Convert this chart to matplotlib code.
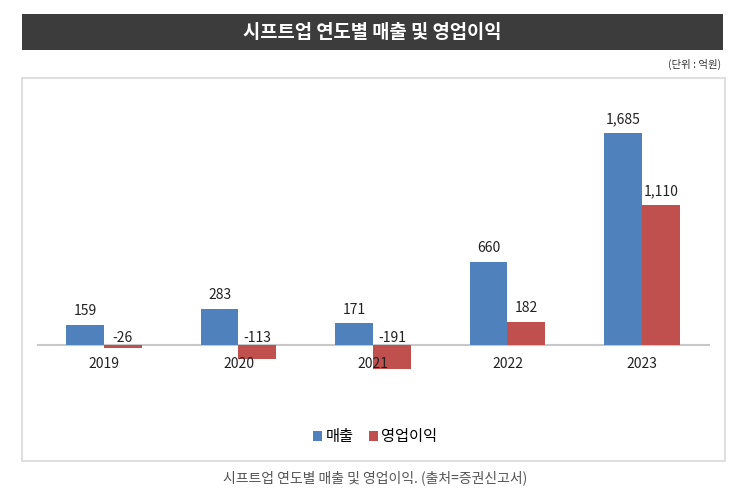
import matplotlib
matplotlib.use("Agg")
import matplotlib.pyplot as plt
from matplotlib.patches import Rectangle
import numpy as np

plt.rcParams['font.family'] = ['Noto Sans CJK KR', 'DejaVu Sans']

years = ["2019", "2020", "2021", "2022", "2023"]
sales = [159, 283, 171, 660, 1685]
op_profit = [-26, -113, -191, 182, 1110]
series_names = ["매출", "영업이익"]
title = "시프트업 연도별 매출 및 영업이익"
unit = "(단위 : 억원)"
caption = "시프트업 연도별 매출 및 영업이익. (출처=증권신고서)"

BLUE = "#4F81BD"
RED = "#C0504D"

W, H = 743, 494
fig = plt.figure(figsize=(W/100, H/100), dpi=100)
fig.patch.set_facecolor("white")

def fx(px): return px / W
def fy(py): return 1 - py / H

# title bar
fig.patches.append(Rectangle((fx(22), fy(50)), fx(723) - fx(22), fy(14) - fy(50),
                             transform=fig.transFigure, facecolor="#3c3c3c", edgecolor="none",
                             zorder=-2))
fig.text(fx(372), fy(32), title, color="white", fontsize=13.5, fontweight="bold",
         ha="center", va="center")
fig.text(fx(721), fy(64), unit, color="#333333", fontsize=7.5, ha="right", va="center")

# chart box
fig.patches.append(Rectangle((fx(22), fy(461)), fx(725) - fx(22), fy(78) - fy(461),
                             transform=fig.transFigure, facecolor="none", edgecolor="#d9d9d9",
                             linewidth=1.2, zorder=-1))

# axes
ax = fig.add_axes([fx(37), fy(400), fx(710) - fx(37), fy(100) - fy(400)])
ax.set_facecolor("none")
x = np.arange(len(years))
bw = 0.282
ax.bar(x - bw/2, sales, bw, color=BLUE, label=series_names[0], zorder=2)
ax.bar(x + bw/2, op_profit, bw, color=RED, label=series_names[1], zorder=2)
ax.axhline(0, color="#c8c8c8", linewidth=1.5, zorder=1)
ax.set_xlim(-0.498, 4.506)
ax.set_ylim(-437, 1947)
for s in ax.spines.values():
    s.set_visible(False)
ax.set_xticks([])
ax.set_yticks([])

for i, v in enumerate(sales):
    ax.annotate(f"{v:,}", (x[i] - bw/2, v), xytext=(0, 5), textcoords="offset points",
                ha="center", va="bottom", fontsize=10, color="#222222")
for i, v in enumerate(op_profit):
    ax.annotate(f"{v:,}", (x[i] + bw/2, max(v, 0)), xytext=(0, 0 if v < 0 else 5),
                textcoords="offset points", ha="center", va="bottom", fontsize=10, color="#222222")
for i, yr in enumerate(years):
    ax.annotate(yr, (x[i], 0), xytext=(0, -14), textcoords="offset points",
                ha="center", va="center", fontsize=10, color="#222222", zorder=3)

leg = fig.legend(loc="center", bbox_to_anchor=(fx(375), fy(437)), ncol=2, frameon=False,
                 fontsize=11, handlelength=0.6, handleheight=0.6, handletextpad=0.2,
                 columnspacing=1.0)

fig.text(fx(375), fy(478), caption, color="#555555", fontsize=10, style="italic",
         ha="center", va="center")

fig.savefig("out.png", dpi=100)
